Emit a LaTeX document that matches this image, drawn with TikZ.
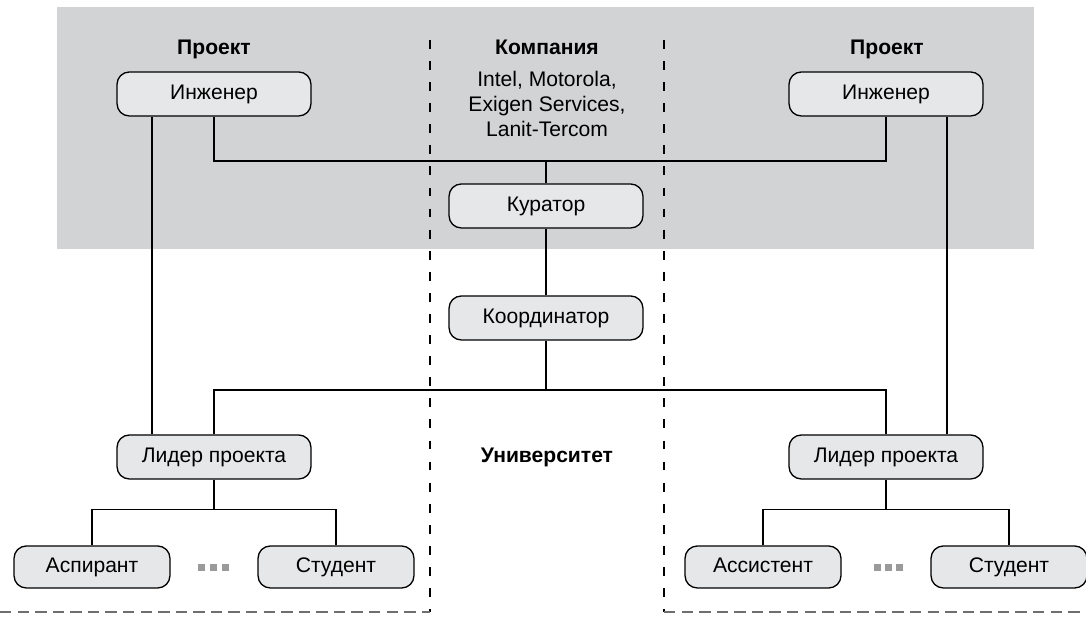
\documentclass[tikz,border=0pt]{standalone}
\usepackage{fontspec}
\setmainfont{Liberation Sans}
\usetikzlibrary{calc}
\definecolor{bandgray}{HTML}{D1D3D4}
\definecolor{boxgray}{HTML}{E6E7E8}
\definecolor{dotgray}{HTML}{9A9A9A}
\definecolor{rulegray}{HTML}{6E6E6E}

\begin{document}
\begin{tikzpicture}[x=0.02cm,y=-0.02cm,font=\fontsize{12}{14}\selectfont]
    \tikzstyle{role}=[draw=black,fill=boxgray,rounded corners=7pt,line width=0.75pt,minimum width=3.88cm,minimum height=0.88cm,inner sep=0pt,text height=8.8pt,text depth=2.6pt]
    \tikzstyle{member}=[role,minimum width=3.12cm,minimum height=0.84cm]
    \tikzstyle{head}=[font=\fontsize{12}{14}\selectfont\bfseries]
    \tikzstyle{wire}=[line width=0.6pt]
    \tikzstyle{border}=[dash pattern=on 5pt off 7pt,line width=0.6pt]
    \tikzstyle{floor}=[rulegray,dash pattern=on 6.5pt off 3.5pt,line width=0.9pt]
    \useasboundingbox (0,0) rectangle (1086,617);
    \fill [bandgray] (57,7) rectangle (1034,249);
    % company / university borders
    \draw [border] (430,40) -- (430,612);
    \draw [border] (664,40) -- (664,612);
    \draw [floor] (0,612) -- (430,612);
    \draw [floor] (664,612) -- (1086,612);
    % headings
    \node (projL)[head] at (214,49) {Проект};
    \node (projR)[head] at (887,49) {Проект};
    \node (firm)[head] at (547,47) {Компания};
    \node (firms)[align=center] at (547,104) {Intel, Motorola,\\Exigen Services,\\Lanit-Tercom};
    \node (univ)[head] at (547,457) {Университет};
    % roles
    \node (engL)[role] at (214,94) {Инженер};
    \node (engR)[role] at (886,94) {Инженер};
    \node (cur)[role] at (546,206) {Куратор};
    \node (coord)[role] at (546,318) {Координатор};
    \node (leadL)[role] at (214,457) {Лидер проекта};
    \node (leadR)[role] at (886,457) {Лидер проекта};
    \node (aspL)[member] at (92,567) {Аспирант};
    \node (studL)[member] at (336,567) {Студент};
    \node (asstR)[member] at (763,567) {Ассистент};
    \node (studR)[member] at (1009,567) {Студент};
    \coordinate (busT) at (546,161);
    \coordinate (busB) at (546,390);
    % links
    \draw [wire] (engL.south) |- (busT) -| (engR.south);
    \draw [wire] (busT) -- (cur.north);
    \draw [wire] (cur) -- (coord);
    \draw [wire] (coord.south) -- (busB);
    \draw [wire] (leadL.north) |- (busB) -| (leadR.north);
    \draw [wire] ($(engL.south)+(-62,0)$) -- ($(leadL.north)+(-62,0)$);
    \draw [wire] ($(engR.south)+(61,0)$) -- ($(leadR.north)+(61,0)$);
    \draw [wire] (leadL.south) -- ++(0,30) coordinate (subL);
    \draw [wire] (aspL.north) |- (subL) -| (studL.north);
    \draw [wire] (leadR.south) -- ++(0,30) coordinate (subR);
    \draw [wire] (asstR.north) |- (subR) -| (studR.north);
    % dots
    \foreach \cx in {201,213,225,877,888,899}
        \fill [dotgray] (\cx-3.5,564.5) rectangle (\cx+3.5,571.5);
\end{tikzpicture}
\end{document}
